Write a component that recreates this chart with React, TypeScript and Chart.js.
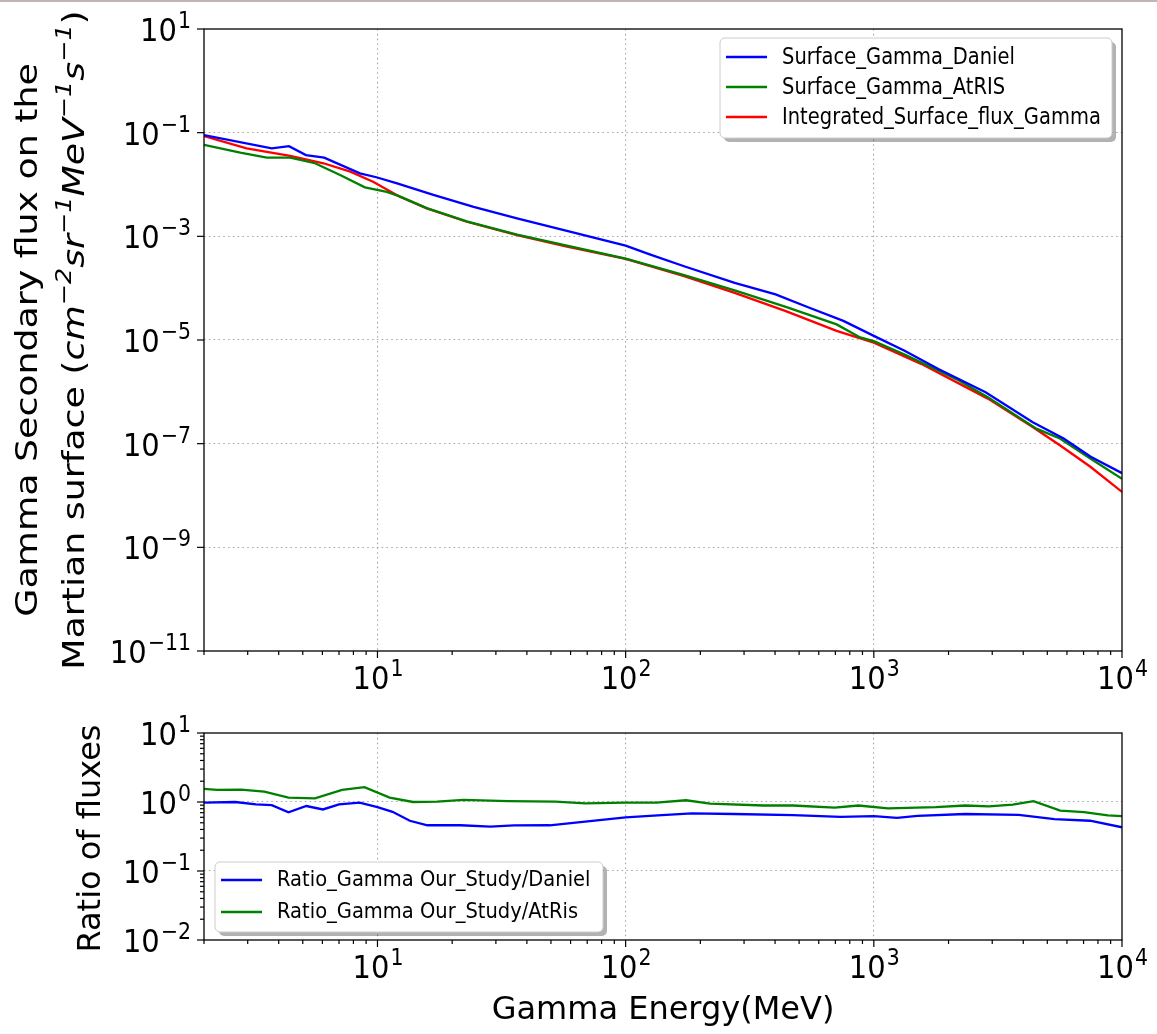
import React, { useEffect, useRef } from 'react';
import { Chart, registerables } from 'chart.js';

Chart.register(...registerables);

// ---------- data ----------
const danielEnergy = [2, 3.75, 4.4, 5.15, 6.1, 8.5, 9.9, 12, 16.8, 24.4, 36.5, 58, 100, 125, 172, 275, 402, 550, 754, 1000, 1330, 1820, 2820, 4370, 5820, 7480, 10000];
const danielFlux = [0.09, 0.05, 0.055, 0.037, 0.033, 0.0164, 0.0138, 0.0105, 0.0063, 0.0037, 0.00222, 0.00127, 6.6e-4, 4.5e-4, 2.65e-4, 1.27e-4, 7.6e-5, 4.2e-5, 2.34e-5, 1.2e-5, 6.2e-6, 2.75e-6, 9.8e-7, 2.6e-7, 1.26e-7, 5.6e-8, 2.7e-8];

const atrisEnergy = [2, 2.8, 3.58, 4.45, 5.6, 7.07, 8.9, 10.9, 12.3, 15.8, 22.9, 36.5, 58, 100, 172, 275, 442, 708, 881, 1000, 1330, 2140, 2880, 4520, 5620, 7480, 10000];
const atrisFlux = [0.058, 0.041, 0.033, 0.033, 0.0257, 0.0152, 0.0088, 0.0072, 0.0059, 0.0035, 0.00194, 0.00108, 6.6e-4, 3.72e-4, 1.78e-4, 9.1e-5, 4.37e-5, 2.0e-5, 1.12e-5, 9.5e-6, 5.25e-6, 1.78e-6, 7.9e-7, 1.95e-7, 1.26e-7, 5.1e-8, 2.1e-8];

const integratedEnergy = [2, 2.97, 4.45, 6.06, 7.77, 9.6, 12.3, 15.8, 22.9, 36.5, 58, 100, 172, 275, 442, 708, 1000, 1550, 2880, 4365, 5620, 7480, 10000];
const integratedFlux = [0.086, 0.05, 0.0355, 0.0257, 0.0177, 0.0113, 0.0058, 0.00347, 0.00191, 0.00106, 6.3e-4, 3.67e-4, 1.7e-4, 8.1e-5, 3.6e-5, 1.5e-5, 8.9e-6, 3.47e-6, 7.4e-7, 2.1e-7, 9.3e-8, 3.55e-8, 1.17e-8];

const ratioDanielEnergy = [2, 2.67, 3.24, 3.75, 4.38, 5.17, 6.03, 7.0, 8.47, 10, 11.5, 13.5, 15.9, 21.6, 28.5, 35.5, 49.4, 68.7, 100, 140, 185, 272, 473, 735, 1000, 1240, 1500, 2335, 3835, 5340, 7430, 10000];
const ratioDanielValue = [0.98, 1.0, 0.925, 0.9, 0.71, 0.875, 0.78, 0.925, 0.98, 0.84, 0.72, 0.535, 0.46, 0.46, 0.44, 0.457, 0.46, 0.52, 0.6, 0.646, 0.684, 0.67, 0.646, 0.61, 0.625, 0.59, 0.63, 0.67, 0.65, 0.565, 0.535, 0.43];

const ratioAtrisEnergy = [2, 2.26, 2.82, 3.5, 4.38, 5.6, 7.2, 8.86, 11.2, 13.9, 17.4, 22.2, 33.6, 52.2, 68.7, 100, 133, 175, 219, 359, 473, 695, 867, 1140, 1775, 2335, 2910, 3630, 4400, 5640, 7030, 8770, 10000];
const ratioAtrisValue = [1.55, 1.5, 1.51, 1.41, 1.16, 1.13, 1.5, 1.64, 1.16, 1.0, 1.01, 1.07, 1.03, 1.01, 0.956, 0.98, 0.98, 1.06, 0.946, 0.89, 0.89, 0.83, 0.89, 0.81, 0.84, 0.89, 0.865, 0.915, 1.03, 0.75, 0.715, 0.64, 0.625];

// ---------- ticks ----------
const xMajorValues = [10, 100, 1000, 10000];
const xMajorExps = ['1', '2', '3', '4'];
const xMinorValues = [2, 3, 4, 5, 6, 7, 8, 9, 20, 30, 40, 50, 60, 70, 80, 90, 200, 300, 400, 500, 600, 700, 800, 900, 2000, 3000, 4000, 5000, 6000, 7000, 8000, 9000];
const xGridValues = [10, 100, 1000];

const fluxMajorValues = [10, 0.1, 1e-3, 1e-5, 1e-7, 1e-9, 1e-11];
const fluxMajorExps = ['1', '\u22121', '\u22123', '\u22125', '\u22127', '\u22129', '\u221211'];
const fluxGridValues = [0.1, 1e-3, 1e-5, 1e-7, 1e-9];

const ratioMajorValues = [10, 1, 0.1, 0.01];
const ratioMajorExps = ['1', '0', '\u22121', '\u22122'];
const ratioMinorValues = [0.02, 0.03, 0.04, 0.05, 0.06, 0.07, 0.08, 0.09, 0.2, 0.3, 0.4, 0.5, 0.6, 0.7, 0.8, 0.9, 2, 3, 4, 5, 6, 7, 8, 9];
const ratioGridValues = [1, 0.1];

// ---------- labels ----------
const fluxLegendLabels = ['Surface_Gamma_Daniel', 'Surface_Gamma_AtRIS', 'Integrated_Surface_flux_Gamma'];
const ratioLegendLabels = ['Ratio_Gamma Our_Study/Daniel', 'Ratio_Gamma Our_Study/AtRis'];
const fluxColors = ['#0000ff', '#008000', '#ff0000'];
const ratioColors = ['#0000ff', '#008000'];

const FONT = '"DejaVu Sans", "Liberation Sans", sans-serif';

type Seg = { t: string; it?: boolean; sup?: boolean };
const yTitleLine1: Seg[] = [{ t: 'Gamma Secondary flux on the' }];
const yTitleLine2: Seg[] = [
  { t: 'Martian surface (' },
  { t: 'cm', it: true }, { t: '\u22122', sup: true, it: true },
  { t: 'sr', it: true }, { t: '\u22121', sup: true, it: true },
  { t: 'MeV', it: true }, { t: '\u22121', sup: true, it: true },
  { t: 's', it: true }, { t: '\u22121', sup: true, it: true },
  { t: ')' },
];
const ratioTitle: Seg[] = [{ t: 'Ratio of fluxes' }];
const xTitle = 'Gamma Energy(MeV)';

// ---------- drawing helpers ----------
function pts(xs: number[], ys: number[]) {
  return xs.map((x, i) => ({ x, y: ys[i] }));
}

function drawPow(ctx: CanvasRenderingContext2D, x: number, y: number, exp: string, align: 'right' | 'center', S: number) {
  const bs = 29, es = 20.5;
  ctx.save();
  ctx.translate(x, y);
  ctx.scale(1, S);
  ctx.fillStyle = '#000';
  ctx.textAlign = 'left';
  ctx.textBaseline = 'alphabetic';
  ctx.font = `${bs}px ${FONT}`;
  const wb = ctx.measureText('10').width;
  ctx.font = `${es}px ${FONT}`;
  const we = ctx.measureText(exp).width;
  const x0 = align === 'right' ? -(wb + we) : -(wb + we) / 2;
  ctx.font = `${bs}px ${FONT}`;
  ctx.fillText('10', x0, 0);
  ctx.font = `${es}px ${FONT}`;
  ctx.fillText(exp, x0 + wb + 1, -11.5);
  ctx.restore();
}

function drawRotated(ctx: CanvasRenderingContext2D, bx: number, cy: number, segs: Seg[], size: number, S: number) {
  ctx.save();
  ctx.translate(bx, cy);
  ctx.scale(1, S);
  ctx.rotate(-Math.PI / 2);
  ctx.fillStyle = '#000';
  ctx.textAlign = 'left';
  ctx.textBaseline = 'alphabetic';
  const fontOf = (s: Seg) => `${s.it ? 'italic ' : ''}${s.sup ? size * 0.7 : size}px ${FONT}`;
  let W = 0;
  const widths = segs.map((s) => {
    ctx.font = fontOf(s);
    const w = ctx.measureText(s.t).width;
    W += w;
    return w;
  });
  let x = -W / 2;
  segs.forEach((s, i) => {
    ctx.font = fontOf(s);
    ctx.fillText(s.t, x, s.sup ? -size * 0.42 : 0);
    x += widths[i];
  });
  ctx.restore();
}

function roundRectPath(ctx: CanvasRenderingContext2D, x: number, y: number, w: number, h: number, r: number) {
  ctx.beginPath();
  ctx.moveTo(x + r, y);
  ctx.lineTo(x + w - r, y);
  ctx.arcTo(x + w, y, x + w, y + r, r);
  ctx.lineTo(x + w, y + h - r);
  ctx.arcTo(x + w, y + h, x + w - r, y + h, r);
  ctx.lineTo(x + r, y + h);
  ctx.arcTo(x, y + h, x, y + h - r, r);
  ctx.lineTo(x, y + r);
  ctx.arcTo(x, y, x + r, y, r);
  ctx.closePath();
}

type LegendBox = { x: number; y: number; w: number; h: number; lx1: number; lx2: number; tx: number; rows: number[] };

function drawLegend(ctx: CanvasRenderingContext2D, b: LegendBox, labels: string[], colors: string[], size: number, S: number) {
  ctx.save();
  ctx.fillStyle = 'rgba(0,0,0,0.3)';
  roundRectPath(ctx, b.x + 4, b.y + 4, b.w, b.h, 5);
  ctx.fill();
  ctx.fillStyle = '#ffffff';
  roundRectPath(ctx, b.x, b.y, b.w, b.h, 5);
  ctx.fill();
  ctx.strokeStyle = '#cccccc';
  ctx.lineWidth = 1;
  ctx.stroke();
  labels.forEach((lab, i) => {
    const y = b.rows[i];
    ctx.strokeStyle = colors[i];
    ctx.lineWidth = 2.3;
    ctx.beginPath();
    ctx.moveTo(b.lx1, y);
    ctx.lineTo(b.lx2, y);
    ctx.stroke();
    ctx.save();
    ctx.translate(b.tx, y);
    ctx.scale(1, S);
    ctx.fillStyle = '#000';
    ctx.font = `${size}px ${FONT}`;
    ctx.textAlign = 'left';
    ctx.textBaseline = 'middle';
    ctx.fillText(lab, 0, 1);
    ctx.restore();
  });
  ctx.restore();
}

function drawFrameAndTicks(chart: any, yMajors: number[], yMinors: number[]) {
  const ctx: CanvasRenderingContext2D = chart.ctx;
  const a = chart.chartArea;
  const xs = chart.scales.x;
  const ys = chart.scales.y;
  ctx.save();
  ctx.strokeStyle = '#000';
  ctx.lineWidth = 1.3;
  ctx.strokeRect(a.left, a.top, a.right - a.left, a.bottom - a.top);
  ctx.lineWidth = 1.2;
  const tick = (x1: number, y1: number, x2: number, y2: number) => {
    ctx.beginPath();
    ctx.moveTo(x1, y1);
    ctx.lineTo(x2, y2);
    ctx.stroke();
  };
  xMajorValues.forEach((v) => {
    const p = xs.getPixelForValue(v);
    tick(p, a.bottom, p, a.bottom + 7);
  });
  xMinorValues.forEach((v) => {
    const p = xs.getPixelForValue(v);
    tick(p, a.bottom, p, a.bottom + 4);
  });
  yMajors.forEach((v) => {
    const p = ys.getPixelForValue(v);
    tick(a.left - 7, p, a.left, p);
  });
  yMinors.forEach((v) => {
    const p = ys.getPixelForValue(v);
    tick(a.left - 4, p, a.left, p);
  });
  ctx.restore();
  xMajorValues.forEach((v, i) => {
    drawPow(ctx, xs.getPixelForValue(v), a.bottom + 38, xMajorExps[i], 'center', 1.12);
  });
}

const bgPlugin = {
  id: 'bgWhite',
  beforeDraw(chart: any) {
    const ctx = chart.ctx;
    ctx.save();
    ctx.fillStyle = '#ffffff';
    ctx.fillRect(0, 0, chart.width, chart.height);
    ctx.restore();
  },
};

const fluxDecor = {
  id: 'fluxDecor',
  afterDraw(chart: any) {
    const ctx: CanvasRenderingContext2D = chart.ctx;
    const a = chart.chartArea;
    const ys = chart.scales.y;
    drawFrameAndTicks(chart, fluxMajorValues, []);
    fluxMajorValues.forEach((v, i) => {
      drawPow(ctx, a.left - 14, ys.getPixelForValue(v) + 12, fluxMajorExps[i], 'right', 1.12);
    });
    const cy = (a.top + a.bottom) / 2;
    drawRotated(ctx, 37, cy, yTitleLine1, 31, 1.17);
    drawRotated(ctx, 84, cy, yTitleLine2, 31, 1.17);
    drawLegend(ctx, { x: 720, y: 38, w: 392, h: 100, lx1: 726, lx2: 767, tx: 782, rows: [57, 87, 117] }, fluxLegendLabels, fluxColors, 19.5, 1.15);
  },
};

const ratioDecor = {
  id: 'ratioDecor',
  afterDraw(chart: any) {
    const ctx: CanvasRenderingContext2D = chart.ctx;
    const a = chart.chartArea;
    const ys = chart.scales.y;
    drawFrameAndTicks(chart, ratioMajorValues, ratioMinorValues);
    ratioMajorValues.forEach((v, i) => {
      drawPow(ctx, a.left - 14, ys.getPixelForValue(v) + 12, ratioMajorExps[i], 'right', 1.12);
    });
    drawRotated(ctx, 100, (a.top + a.bottom) / 2 + 2, ratioTitle, 32, 1.0);
    ctx.save();
    ctx.fillStyle = '#000';
    ctx.font = `32px ${FONT}`;
    ctx.textAlign = 'center';
    ctx.textBaseline = 'alphabetic';
    ctx.fillText(xTitle, (a.left + a.right) / 2, a.bottom + 79);
    ctx.restore();
    drawLegend(ctx, { x: 215, y: a.top + 129, w: 388, h: 70, lx1: 221, lx2: 262, tx: 277, rows: [a.top + 147, a.top + 179] }, ratioLegendLabels, ratioColors, 19.5, 1.06);
  },
};

function gridOpts() {
  return {
    display: true,
    drawTicks: false,
    color: '#a8a8a8',
    lineWidth: 1.1,
  };
}

function makeScales(yMin: number, yMax: number, yGrid: number[], yWidth: number, xHeight: number) {
  return {
    x: {
      type: 'logarithmic' as const,
      min: 2,
      max: 10000,
      afterFit: (s: any) => { s.height = xHeight; },
      afterBuildTicks: (s: any) => { s.ticks = xGridValues.map((v) => ({ value: v })); },
      ticks: { display: false, autoSkip: false },
      grid: gridOpts(),
      border: { display: false, dash: [1.6, 3.2] },
    },
    y: {
      type: 'logarithmic' as const,
      min: yMin,
      max: yMax,
      afterFit: (s: any) => { s.width = yWidth; },
      afterBuildTicks: (s: any) => { s.ticks = yGrid.map((v) => ({ value: v })); },
      ticks: { display: false, autoSkip: false },
      grid: gridOpts(),
      border: { display: false, dash: [1.6, 3.2] },
    },
  };
}

function lineDs(label: string, data: { x: number; y: number }[], color: string) {
  return {
    label,
    data,
    borderColor: color,
    backgroundColor: color,
    borderWidth: 2.3,
    pointRadius: 0,
    fill: false,
    tension: 0,
  };
}

export default function App() {
  const topRef = useRef<HTMLCanvasElement | null>(null);
  const botRef = useRef<HTMLCanvasElement | null>(null);

  useEffect(() => {
    if (!topRef.current || !botRef.current) return;
    const top = new Chart(topRef.current, {
      type: 'line',
      data: {
        datasets: [
          lineDs(fluxLegendLabels[0], pts(danielEnergy, danielFlux), fluxColors[0]),
          lineDs(fluxLegendLabels[1], pts(atrisEnergy, atrisFlux), fluxColors[1]),
          lineDs(fluxLegendLabels[2], pts(integratedEnergy, integratedFlux), fluxColors[2]),
        ],
      },
      options: {
        responsive: false,
        animation: false,
        devicePixelRatio: 1,
        events: [],
        layout: { padding: { left: 0, right: 35, top: 29, bottom: 0 } },
        plugins: { legend: { display: false }, tooltip: { enabled: false } },
        scales: makeScales(1e-11, 10, fluxGridValues, 204, 49) as any,
      },
      plugins: [bgPlugin, fluxDecor],
    });
    const bot = new Chart(botRef.current, {
      type: 'line',
      data: {
        datasets: [
          lineDs(ratioLegendLabels[0], pts(ratioDanielEnergy, ratioDanielValue), ratioColors[0]),
          lineDs(ratioLegendLabels[1], pts(ratioAtrisEnergy, ratioAtrisValue), ratioColors[1]),
        ],
      },
      options: {
        responsive: false,
        animation: false,
        devicePixelRatio: 1,
        events: [],
        layout: { padding: { left: 0, right: 35, top: 33, bottom: 0 } },
        plugins: { legend: { display: false }, tooltip: { enabled: false } },
        scales: makeScales(0.01, 10, ratioGridValues, 204, 94) as any,
      },
      plugins: [bgPlugin, ratioDecor],
    });
    return () => {
      top.destroy();
      bot.destroy();
    };
  }, []);

  return (
    <div style={{ position: 'absolute', left: 0, top: 0, width: 1157, height: 1034, background: '#ffffff', overflow: 'hidden' }}>
      <canvas ref={topRef} width={1157} height={700} style={{ position: 'absolute', left: 0, top: 0, width: 1157, height: 700 }} />
      <canvas ref={botRef} width={1157} height={334} style={{ position: 'absolute', left: 0, top: 700, width: 1157, height: 334 }} />
      <div style={{ position: 'absolute', left: 0, top: 0, width: 1157, height: 2, background: '#c4b4b4' }} />
    </div>
  );
}
